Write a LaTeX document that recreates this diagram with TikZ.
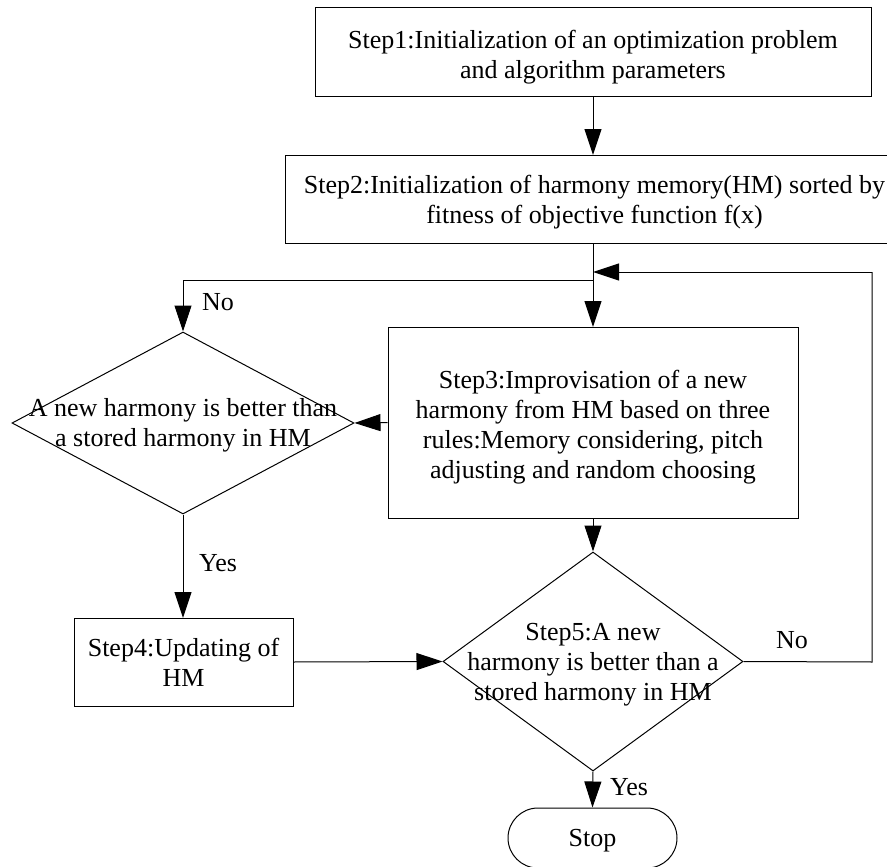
\documentclass[tikz,border=0pt]{standalone}
\usepackage{fontspec}
\setmainfont{Liberation Serif}
\usetikzlibrary{arrows.meta,shapes.geometric}
\begin{document}
\begin{tikzpicture}[x=1pt,y=-1pt,
  every node/.style={font=\fontsize{26}{30}\selectfont},
  every label/.style={font=\fontsize{26}{30}\selectfont,align=center,inner sep=0pt},
  stepbox/.style={draw,line width=1pt,rectangle,inner sep=0pt},
  decision/.style={draw,line width=1pt,shape=diamond,inner sep=0pt},
  flow/.style={line width=1pt,-{Triangle[length=26pt,width=17pt]}},
  plain/.style={line width=1pt},
  lbl/.style={inner sep=0pt}]
\useasboundingbox (0,0) rectangle (887,867);
\clip (0,0) rectangle (887,867);
\fill[white] (0,0) rectangle (887,867);

\node[stepbox,minimum width=556pt,minimum height=89pt,
  label={[yshift=-4.5pt]center:{Step1:Initialization of an optimization problem\\and algorithm parameters}}] (s1) at (593,52.5) {};
\node[stepbox,minimum width=619pt,minimum height=88pt,
  label={[yshift=-3pt]center:{Step2:Initialization of harmony memory(HM) sorted by\\fitness of objective function f(x)}}] (s2) at (594.5,199) {};
\node[stepbox,minimum width=410pt,minimum height=191pt,
  label={[yshift=-5pt]center:{Step3:Improvisation of a new\\harmony from HM based on three\\rules:Memory considering, pitch\\adjusting and random choosing}}] (s3) at (593,422.5) {};
\node[decision,minimum width=342pt,minimum height=182pt,
  label={[yshift=-2pt]center:{A new harmony is better than\\a stored harmony in HM}}] (d1) at (183,423) {};
\node[stepbox,minimum width=219pt,minimum height=88pt,
  label={[yshift=-0.5pt]center:{Step4:Updating of\\HM}}] (s4) at (183.5,662) {};
\node[decision,minimum width=300pt,minimum height=219pt,
  label={[yshift=-3.5pt]center:{Step5:A new\\harmony is better than a\\stored harmony in HM}}] (d2) at (593,661.5) {};
\node[draw,line width=1pt,rounded corners=30pt,minimum width=169pt,minimum height=60pt,inner sep=0pt,
  label={[yshift=-3pt]center:Stop}] (stop) at (592.5,838) {};

\coordinate (jin) at (593,272);
\coordinate (jout) at (593,280);
\coordinate (lcorner) at (183,280);
\coordinate (rb) at (872,662);
\coordinate (rt) at (872,272);

\draw[flow] (s1.south -| 593,0) -- (593,155);
\draw[flow] (593,243) -- (593,327);
\draw[plain] (jout) -- (lcorner);
\draw[flow] (lcorner) -- (d1.north);
\draw[flow] (rt) -- (jin);
\draw[flow] (s3.west) -- (d1.east);
\draw[flow] (d1.south) -- (183,618);
\draw[flow] (s4.east) -- (d2.west);
\draw[flow] (593,518) -- (d2.north);
\draw[plain] (d2.east) -- (rb) -- (rt);
\draw[flow] (d2.south) -- (stop.north);

\node[lbl] (no1) at (218,302) {No};
\node[lbl] (yes1) at (218,563) {Yes};
\node[lbl] (no2) at (792,640) {No};
\node[lbl] (yes2) at (629,787) {Yes};
\end{tikzpicture}
\end{document}
